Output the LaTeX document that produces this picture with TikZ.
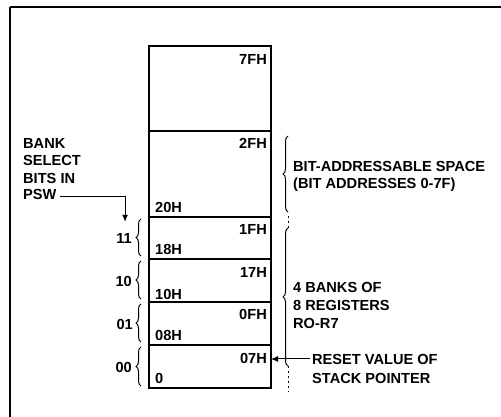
\documentclass[tikz,border=0pt]{standalone}
\usepackage{fontspec}
\setmainfont{Liberation Sans}
\usetikzlibrary{arrows.meta,decorations.pathreplacing}
\begin{document}
\begin{tikzpicture}[x=1pt,y=-1pt,
  cell/.style={draw,line width=1.3pt,minimum width=122pt,inner sep=0pt,outer sep=0pt},
  lab/.style={inner sep=0pt,font=\bfseries\fontsize{14.6}{17}\selectfont},
  brc/.style={decorate,decoration={brace,amplitude=5pt},line width=1pt},
  arr/.style={line width=1pt,-{Latex[length=7pt,width=6pt]}}]
\useasboundingbox (0,0) rectangle (501,417);
% frame
\draw[line width=1.8pt] (10,7) -- (501,7);
\draw[line width=1.4pt] (10,7) -- (10,417);
% memory cells
\node[cell,minimum height=85pt] (c7) at (210,88.5) {};
\node[cell,minimum height=86pt] (c2) at (210,174) {};
\node[cell,minimum height=42pt] (c3) at (210,238) {};
\node[cell,minimum height=43pt] (c2b) at (210,280.5) {};
\node[cell,minimum height=43pt] (c1) at (210,323.5) {};
\node[cell,minimum height=43pt] (c0) at (210,366.5) {};
% address labels
\node[lab,anchor=base east] (a7f) at (267,65) {7FH};
\node[lab,anchor=base east] (a2f) at (267,149) {2FH};
\node[lab,anchor=base west] (a20) at (155,212) {20H};
\node[lab,anchor=base east] (a1f) at (267,234) {1FH};
\node[lab,anchor=base west] (a18) at (155,254) {18H};
\node[lab,anchor=base east] (a17) at (267,277) {17H};
\node[lab,anchor=base west] (a10) at (155,299) {10H};
\node[lab,anchor=base east] (a0f) at (267,319) {0FH};
\node[lab,anchor=base west] (a08) at (155,340) {08H};
\node[lab,anchor=base east] (a07) at (267,363) {07H};
\node[lab,anchor=base west] (a00) at (155,383) {0};
% bank numbers
\node[lab,anchor=base east] (b11) at (132,243) {11};
\node[lab,anchor=base east] (b10) at (132,286) {10};
\node[lab,anchor=base east] (b01) at (133,329) {01};
\node[lab,anchor=base east] (b00) at (132,372) {00};
% left braces
\draw[brc] (141,256) -- (141,219);
\draw[brc] (141,299) -- (141,261);
\draw[brc] (141,342) -- (141,304);
\draw[brc] (141,386) -- (141,347);
% bank select text
\node[lab,anchor=base west] (t1) at (23,149) {BANK};
\node[lab,anchor=base west] (t2) at (23,166) {SELECT};
\node[lab,anchor=base west] (t3) at (23,183) {BITS IN};
\node[lab,anchor=base west] (psw) at (23,200) {PSW};
\draw[arr] ([xshift=3pt,yshift=4pt]psw.south east) -| ([xshift=1pt,yshift=11pt]b11.north);
% right braces
\draw[brc] (288,212) -- (288,136);
\draw[brc] (288,366) -- (288,228);
\draw[line width=1pt,dash pattern=on 2pt off 3pt] (288,216) -- (288,228);
\draw[line width=1pt,dash pattern=on 2pt off 3pt] (288,366) -- (288,392);
% right texts
\node[lab,anchor=base west] (r1) at (293,172) {BIT-ADDRESSABLE SPACE};
\node[lab,anchor=base west] (r2) at (293,189) {(BIT ADDRESSES 0-7F)};
\node[lab,anchor=base west] (r3) at (293,292) {4 BANKS OF};
\node[lab,anchor=base west] (r4) at (293,310) {8 REGISTERS};
\node[lab,anchor=base west] (r5) at (293,328) {RO-R7};
\node[lab,anchor=base west] (s1) at (312,364) {RESET VALUE OF};
\node[lab,anchor=base west] (s2) at (312,383) {STACK POINTER};
\draw[arr] ([xshift=-2pt]s1.west) -- (c0.east |- s1.west);
\end{tikzpicture}
\end{document}
